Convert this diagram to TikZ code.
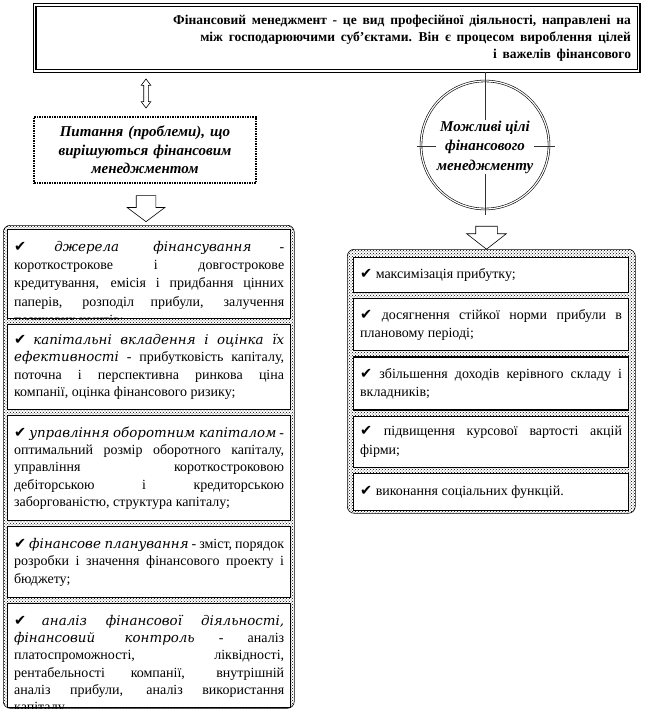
\documentclass[tikz,border=0pt]{standalone}
\usepackage{fontspec}
\setmainfont{Liberation Serif}
\newfontfamily\symfont{DejaVu Sans}
\newfontfamily\termfont{DejaVu Serif}
\usetikzlibrary{positioning,shapes.arrows,patterns}
\newcommand{\chk}{{\symfont\fontsize{14.5}{14}\selectfont ✔}}
\newcommand{\term}[1]{{\termfont\itshape\fontsize{13.4}{17.3}\selectfont #1}}
\newcommand{\widespace}{\spaceskip=5.8pt\relax}
\tolerance=9999
\hyphenpenalty=10000

\begin{document}
\begin{tikzpicture}[x=1pt, y=-1pt, node distance=4.5pt,
  every node/.style={font=\fontsize{14}{17.3}\selectfont},
  defbox/.style={draw, line width=1.2pt, double, double distance=1.6pt, inner xsep=7.5pt, inner ysep=0pt,
    minimum width=604pt, minimum height=66pt, text width=589pt, align=right,
    font=\fontsize{13.5}{17}\selectfont\bfseries},
  qbox/.style={draw, line width=1.5pt, densely dotted, align=center, text width=215pt, minimum height=66pt,
    font=\fontsize{15}{18.5}\selectfont\bfseries\itshape},
  goal/.style={circle, draw, line width=0.6pt, double, double distance=1.2pt, minimum size=128pt, inner sep=0pt},
  frame/.style={draw, line width=0.6pt, rounded corners=7pt, pattern=crosshatch dots, pattern color=black, anchor=north west},
  lbox/.style={draw, line width=1.2pt, fill=white, minimum width=283pt, text width=270pt, align=justify, inner xsep=6.5pt, inner ysep=0pt},
  rbox/.style={draw, line width=1.2pt, fill=white, minimum width=275pt, text width=262pt, align=justify, inner xsep=6.5pt, inner ysep=0pt,
    font=\fontsize{14}{18.3}\selectfont},
  ltext/.style={text width=270pt, align=justify, inner sep=0pt, anchor=north west},
  blockarr/.style={draw, line width=0.6pt, fill=white, inner xsep=0pt},
  thinline/.style={line width=0.5pt, black!80}]

\useasboundingbox (0,0) rectangle (648,711);

% definition
\node[defbox] (def) at (336.5,38) {\widespace Фінансовий менеджмент - це вид професійної  діяльності, направлені на\\
  між господарюючими суб'єктами. Він є процесом вироблення цілей\\ і важелів фінансового};

% left column
\node[blockarr, double arrow, rotate=90, minimum height=29pt, inner ysep=2pt, double arrow head extend=2.5pt,
  double arrow tip angle=74] (link) at (146,93.5) {};
\node[qbox] (issues) at (145,150) {Питання (проблеми), що\\ вирішуються фінансовим\\ менеджментом};
\node[blockarr, single arrow, rotate=-90, minimum height=26pt, inner ysep=9.5pt, single arrow head extend=9pt,
  single arrow tip angle=106] (down1) at (146,205) {};

\node[frame, minimum width=291pt, minimum height=483pt] (issuelist) at (3,225) {};
\node[lbox, anchor=north west, minimum height=89pt] (i1) at (7,229) {};
\begin{scope}
  \clip (i1.north west) rectangle (i1.south east);
  \node[ltext, font=\fontsize{14}{18.3}\selectfont] (t1) at ([xshift=7pt, yshift=-12pt]i1.north west)
  {\chk{} \term{джерела фінансування} -\linebreak короткострокове і довгострокове\linebreak кредитування, емісія і придбання цінних\linebreak паперів, розподіл прибули, залучення\linebreak позикових коштів;};
\end{scope}
\node[lbox, below=of i1, minimum height=85pt] (i2) {\chk{} \term{капітальні вкладення і оцінка їх}\linebreak \term{ефективності} - прибутковість капіталу,\linebreak поточна і перспективна ринкова ціна\linebreak компанії, оцінка фінансового ризику;};
\node[lbox, below=5pt of i2, minimum height=105pt] (i3) {\chk{} \term{управління оборотним капіталом} -\linebreak оптимальний розмір оборотного капіталу,\linebreak управління короткостроковою\linebreak дебіторською і кредиторською\linebreak заборгованістю, структура капіталу;};
\node[lbox, below=5pt of i3, minimum height=71pt] (i4) {\chk{} \term{фінансове планування} - зміст, порядок\linebreak розробки і значення фінансового проекту і\linebreak бюджету;};
\node[lbox, below=of i4, minimum height=104pt] (i5) {};
\begin{scope}
  \clip (i5.north west) rectangle (i5.south east);
  \node[ltext] (t5) at ([xshift=7pt, yshift=-12pt]i5.north west)
  {\chk{} \term{аналіз фінансової діяльності,}\linebreak \term{фінансовий контроль} - аналіз\linebreak платоспроможності, ліквідності,\linebreak рентабельності компанії, внутрішній\linebreak аналіз прибули, аналіз використання\linebreak капіталу.};
\end{scope}

% right column
\node[goal] (goals) at (485,145) {};
\coordinate (vend) at (485,215);
\coordinate (hw) at (417,146);
\coordinate (he) at (555,146);
\draw[thinline] (def.south -| goals) -- (vend);
\draw[thinline] (hw) -- (he);
\node[fill=white, inner sep=1pt, align=center, font=\fontsize{15}{19.5}\selectfont\bfseries\itshape] (goaltext) at (485,147)
  {Можливі цілі\\ фінансового\\ менеджменту};
\node[blockarr, single arrow, rotate=-90, minimum height=23pt, inner ysep=10.5pt, single arrow head extend=9pt,
  single arrow tip angle=104] (down2) at (486.5,233.5) {};

\node[frame, minimum width=288pt, minimum height=264pt] (goallist) at (347,249) {};
\node[rbox, anchor=north west, minimum height=35pt] (g1) at (353,257) {\chk{} максимізація прибутку;};
\node[rbox, below=5pt of g1, minimum height=52pt] (g2) {\chk{} досягнення стійкої норми прибули в плановому періоді;};
\node[rbox, below=5pt of g2, minimum height=53pt] (g3) {\chk{} збільшення доходів керівного складу і вкладників;};
\node[rbox, below=5pt of g3, minimum height=51pt] (g4) {\chk{} підвищення курсової вартості акцій фірми;};
\node[rbox, below=5pt of g4, minimum height=37pt] (g5) {\chk{} виконання соціальних функцій.};
\end{tikzpicture}
\end{document}
